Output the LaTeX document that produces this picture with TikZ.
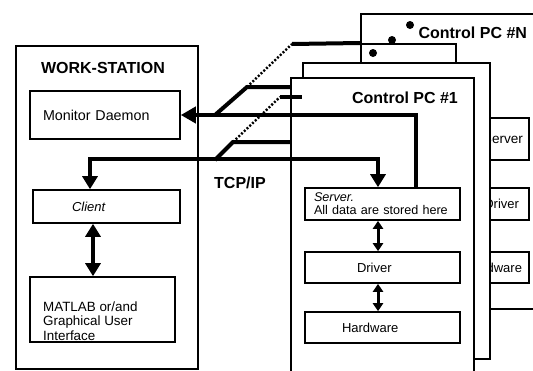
\documentclass[tikz,border=0pt]{standalone}
\usepackage{fontspec}
\setmainfont{Liberation Sans}
\usetikzlibrary{arrows.meta}

\begin{document}
\begin{tikzpicture}[x=1pt,y=-1pt,
  box/.style={draw,line width=1.6pt,fill=white,inner sep=0pt},
  lbl/.style={font=\fontsize{13}{14.5}\selectfont},
  ttl/.style={font=\fontsize{16}{18}\selectfont\bfseries},
  bus/.style={line width=4pt},
  fat/.style={line width=4pt,{Triangle[length=13pt,width=15pt]}-{Triangle[length=13pt,width=15pt]}},
  thin/.style={line width=3pt,{Triangle[length=8pt,width=10pt]}-{Triangle[length=8pt,width=10pt]}},
  tip/.style={-{Triangle[length=15pt,width=16pt]}},
  dots/.style={line width=2.4pt,dash pattern=on 2pt off 1.8pt},
  dot/.style={fill,circle,inner sep=0pt,minimum size=8pt}]
\clip (0,0) rectangle (533,370);
%================================================================
%	Work-station
\node[box, minimum width=182pt, minimum height=323pt, anchor=north west] (ws) at (15,45) {};
\node[ttl] (wst) at (103,68) {WORK-STATION};
\node[box, minimum width=150pt, minimum height=48pt, inner xsep=13pt, text width=124pt, align=left, font=\fontsize{14.3}{16}\selectfont] (mon) at (105,115) {Monitor Daemon};
\node[box, minimum width=147pt, minimum height=33pt, inner xsep=39pt, text width=69pt, align=left, font=\fontsize{13}{14}\selectfont] (client) at (106.5,206.5) {\textit{Client}};
\node[box, minimum width=145pt, minimum height=65pt] (matlab) at (102.5,309.5) {};
\node[align=left, anchor=west, inner sep=3pt, font=\fontsize{13.4}{14.5}\selectfont] (mtxt) at (40,321) {MATLAB or/and\\Graphical User\\Interface};
%================================================================
%	Control PCs (back to front)
\node[box, minimum width=200pt, minimum height=295pt, anchor=north west] (pcN) at (360,13) {};
\node[ttl, anchor=west] (pcNt) at (415,33) {Control PC \#N};
\node[box, minimum width=155pt, minimum height=42pt, inner xsep=6pt, text width=143pt, align=right, font=\fontsize{13.6}{15}\selectfont] (nserver) at (451.5,139) {Server};
\node[box, lbl, minimum width=155pt, minimum height=32pt, inner xsep=10pt, text width=135pt, align=right] (ndriver) at (451.5,204) {Driver};
\node[box, lbl, minimum width=155pt, minimum height=31pt, inner xsep=7pt, text width=141pt, align=right] (nhw) at (451.5,267.5) {Hardware};
%----------------------------------------------------------------
\node[box, minimum width=95pt, minimum height=150pt, anchor=north west] (pcB) at (360,43) {};
\node[box, minimum width=187pt, minimum height=296pt, anchor=north west] (pcC) at (302,62) {};
\node[box, minimum width=183pt, minimum height=310pt, anchor=north west] (pc1) at (290,77) {};
\node[ttl] (pc1t) at (405,98) {Control PC \#1};
%----------------------------------------------------------------
\node[box, minimum width=155pt, minimum height=32pt, inner xsep=9pt, inner ysep=2pt, text width=137pt, align=left, font=\fontsize{12.6}{13}\selectfont] (server) at (382.5,204) {\textit{Server.}\\All data are stored here};
\node[box, lbl, minimum width=155pt, minimum height=31pt, inner xsep=52pt, text width=51pt, align=left] (driver) at (382.5,267.5) {Driver};
\node[box, lbl, minimum width=155pt, minimum height=31pt, inner xsep=37pt, text width=81pt, align=left] (hw) at (382.5,327.5) {Hardware};
%----------------------------------------------------------------
\node[dot] (d1) at (410,25) {};
\node[dot] (d2) at (392,40) {};
\node[dot] (d3) at (373,53) {};
%================================================================
%	Network
\coordinate (j1) at (215,115);
\coordinate (j2) at (215,160);
\coordinate (m1) at (247,87);
\coordinate (m2) at (233,142);
\coordinate (k1) at (292,44);
\coordinate (k2) at (280,97);
\draw[bus] (j1) -- (m1) -- (pc1.west |- m1);
\draw[bus] (j2) -- (m2) -- (pc1.west |- m2);
\draw[dots] (m1) -- (k1);
\draw[dots] (m2) -- (k2);
\draw[bus] (k1) -- (pcB.north west);
\draw[bus] (k2) -- (pcC.west |- k2);
%----------------------------------------------------------------
\draw[bus,tip] ([xshift=33.5pt]server.north) |- (mon.east);
\draw[fat] ([xshift=-16.5pt]client.north) |- ([yshift=28pt,xshift=-4.5pt]server.north) -- ([xshift=-4.5pt]server.north);
\node[ttl] (tcp) at (240,183) {TCP/IP};
%----------------------------------------------------------------
\draw[fat] ([xshift=-13.5pt]client.south) -- ([xshift=-9.5pt]matlab.north);
\draw[thin] ([xshift=-4.5pt]server.south) -- ([xshift=-4.5pt]driver.north);
\draw[thin] ([xshift=-4.5pt]driver.south) -- ([xshift=-4.5pt]hw.north);
%================================================================
\end{tikzpicture}
\end{document}
